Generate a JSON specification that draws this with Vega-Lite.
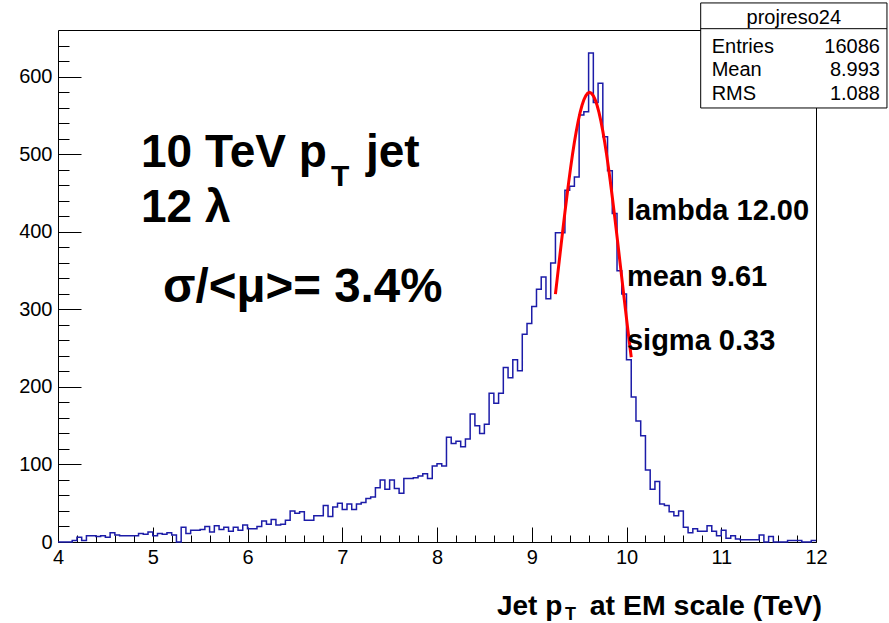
{
  "$schema": "https://vega.github.io/schema/vega-lite/v6.json",
  "width": 758,
  "height": 512,
  "autosize": {"type": "none"},
  "padding": {"left": 58, "top": 30, "right": 73, "bottom": 81},
  "background": "white",
  "data": {"values": [{}]},
  "config": {
    "view": {"stroke": "black", "strokeWidth": 1},
    "axis": {"labelFont": "Liberation Sans", "labelFontSize": 20, "labelColor": "black", "tickColor": "black", "tickWidth": 1, "grid": false, "domain": false, "labelFlush": false}
  },
  "resolve": {"axis": {"x": "independent", "y": "independent"}},
  "layer": [
    {
      "data": {"values": [
        {"lo":4.00,"hi":4.05,"n":0},{"lo":4.05,"hi":4.10,"n":0},{"lo":4.10,"hi":4.15,"n":0},{"lo":4.15,"hi":4.20,"n":2},
        {"lo":4.20,"hi":4.25,"n":6},{"lo":4.25,"hi":4.30,"n":2},{"lo":4.30,"hi":4.35,"n":8},{"lo":4.35,"hi":4.40,"n":8},
        {"lo":4.40,"hi":4.45,"n":7},{"lo":4.45,"hi":4.50,"n":8},{"lo":4.50,"hi":4.55,"n":6},{"lo":4.55,"hi":4.60,"n":12},
        {"lo":4.60,"hi":4.65,"n":9},{"lo":4.65,"hi":4.70,"n":8},{"lo":4.70,"hi":4.75,"n":8},{"lo":4.75,"hi":4.80,"n":8},
        {"lo":4.80,"hi":4.85,"n":8},{"lo":4.85,"hi":4.90,"n":11},{"lo":4.90,"hi":4.95,"n":10},{"lo":4.95,"hi":5.00,"n":13},
        {"lo":5.00,"hi":5.05,"n":8},{"lo":5.05,"hi":5.10,"n":11},{"lo":5.10,"hi":5.15,"n":10},{"lo":5.15,"hi":5.20,"n":12},
        {"lo":5.20,"hi":5.25,"n":9},{"lo":5.25,"hi":5.30,"n":0},{"lo":5.30,"hi":5.35,"n":19},{"lo":5.35,"hi":5.40,"n":11},
        {"lo":5.40,"hi":5.45,"n":15},{"lo":5.45,"hi":5.50,"n":15},{"lo":5.50,"hi":5.55,"n":16},{"lo":5.55,"hi":5.60,"n":20},
        {"lo":5.60,"hi":5.65,"n":13},{"lo":5.65,"hi":5.70,"n":21},{"lo":5.70,"hi":5.75,"n":16},{"lo":5.75,"hi":5.80,"n":19},
        {"lo":5.80,"hi":5.85,"n":14},{"lo":5.85,"hi":5.90,"n":19},{"lo":5.90,"hi":5.95,"n":15},{"lo":5.95,"hi":6.00,"n":22},
        {"lo":6.00,"hi":6.05,"n":17},{"lo":6.05,"hi":6.10,"n":17},{"lo":6.10,"hi":6.15,"n":20},{"lo":6.15,"hi":6.20,"n":27},
        {"lo":6.20,"hi":6.25,"n":23},{"lo":6.25,"hi":6.30,"n":29},{"lo":6.30,"hi":6.35,"n":22},{"lo":6.35,"hi":6.40,"n":23},
        {"lo":6.40,"hi":6.45,"n":28},{"lo":6.45,"hi":6.50,"n":40},{"lo":6.50,"hi":6.55,"n":37},{"lo":6.55,"hi":6.60,"n":39},
        {"lo":6.60,"hi":6.65,"n":28},{"lo":6.65,"hi":6.70,"n":28},{"lo":6.70,"hi":6.75,"n":34},{"lo":6.75,"hi":6.80,"n":34},
        {"lo":6.80,"hi":6.85,"n":47},{"lo":6.85,"hi":6.90,"n":33},{"lo":6.90,"hi":6.95,"n":45},{"lo":6.95,"hi":7.00,"n":50},
        {"lo":7.00,"hi":7.05,"n":42},{"lo":7.05,"hi":7.10,"n":49},{"lo":7.10,"hi":7.15,"n":42},{"lo":7.15,"hi":7.20,"n":49},
        {"lo":7.20,"hi":7.25,"n":51},{"lo":7.25,"hi":7.30,"n":56},{"lo":7.30,"hi":7.35,"n":58},{"lo":7.35,"hi":7.40,"n":70},
        {"lo":7.40,"hi":7.45,"n":80},{"lo":7.45,"hi":7.50,"n":68},{"lo":7.50,"hi":7.55,"n":80},{"lo":7.55,"hi":7.60,"n":69},
        {"lo":7.60,"hi":7.65,"n":63},{"lo":7.65,"hi":7.70,"n":82},{"lo":7.70,"hi":7.75,"n":82},{"lo":7.75,"hi":7.80,"n":83},
        {"lo":7.80,"hi":7.85,"n":85},{"lo":7.85,"hi":7.90,"n":88},{"lo":7.90,"hi":7.95,"n":82},{"lo":7.95,"hi":8.00,"n":98},
        {"lo":8.00,"hi":8.05,"n":101},{"lo":8.05,"hi":8.10,"n":98},{"lo":8.10,"hi":8.15,"n":135},{"lo":8.15,"hi":8.20,"n":127},
        {"lo":8.20,"hi":8.25,"n":130},{"lo":8.25,"hi":8.30,"n":123},{"lo":8.30,"hi":8.35,"n":133},{"lo":8.35,"hi":8.40,"n":165},
        {"lo":8.40,"hi":8.45,"n":150},{"lo":8.45,"hi":8.50,"n":140},{"lo":8.50,"hi":8.55,"n":152},{"lo":8.55,"hi":8.60,"n":192},
        {"lo":8.60,"hi":8.65,"n":179},{"lo":8.65,"hi":8.70,"n":192},{"lo":8.70,"hi":8.75,"n":225},{"lo":8.75,"hi":8.80,"n":212},
        {"lo":8.80,"hi":8.85,"n":235},{"lo":8.85,"hi":8.90,"n":221},{"lo":8.90,"hi":8.95,"n":268},{"lo":8.95,"hi":9.00,"n":282},
        {"lo":9.00,"hi":9.05,"n":304},{"lo":9.05,"hi":9.10,"n":326},{"lo":9.10,"hi":9.15,"n":342},{"lo":9.15,"hi":9.20,"n":314},
        {"lo":9.20,"hi":9.25,"n":360},{"lo":9.25,"hi":9.30,"n":399},{"lo":9.30,"hi":9.35,"n":399},{"lo":9.35,"hi":9.40,"n":454},
        {"lo":9.40,"hi":9.45,"n":459},{"lo":9.45,"hi":9.50,"n":471},{"lo":9.50,"hi":9.55,"n":551},{"lo":9.55,"hi":9.60,"n":555},
        {"lo":9.60,"hi":9.65,"n":631},{"lo":9.65,"hi":9.70,"n":567},{"lo":9.70,"hi":9.75,"n":592},{"lo":9.75,"hi":9.80,"n":523},
        {"lo":9.80,"hi":9.85,"n":479},{"lo":9.85,"hi":9.90,"n":424},{"lo":9.90,"hi":9.95,"n":350},{"lo":9.95,"hi":10.00,"n":320},
        {"lo":10.00,"hi":10.05,"n":235},{"lo":10.05,"hi":10.10,"n":187},{"lo":10.10,"hi":10.15,"n":156},{"lo":10.15,"hi":10.20,"n":137},
        {"lo":10.20,"hi":10.25,"n":93},{"lo":10.25,"hi":10.30,"n":68},{"lo":10.30,"hi":10.35,"n":78},{"lo":10.35,"hi":10.40,"n":49},
        {"lo":10.40,"hi":10.45,"n":47},{"lo":10.45,"hi":10.50,"n":39},{"lo":10.50,"hi":10.55,"n":34},{"lo":10.55,"hi":10.60,"n":40},
        {"lo":10.60,"hi":10.65,"n":19},{"lo":10.65,"hi":10.70,"n":12},{"lo":10.70,"hi":10.75,"n":17},{"lo":10.75,"hi":10.80,"n":14},
        {"lo":10.80,"hi":10.85,"n":14},{"lo":10.85,"hi":10.90,"n":21},{"lo":10.90,"hi":10.95,"n":14},{"lo":10.95,"hi":11.00,"n":8},
        {"lo":11.00,"hi":11.05,"n":15},{"lo":11.05,"hi":11.10,"n":5},{"lo":11.10,"hi":11.15,"n":8},{"lo":11.15,"hi":11.20,"n":4},
        {"lo":11.20,"hi":11.25,"n":3},{"lo":11.25,"hi":11.30,"n":3},{"lo":11.30,"hi":11.35,"n":3},{"lo":11.35,"hi":11.40,"n":3},
        {"lo":11.40,"hi":11.45,"n":9},{"lo":11.45,"hi":11.50,"n":0},{"lo":11.50,"hi":11.55,"n":7},{"lo":11.55,"hi":11.60,"n":0},
        {"lo":11.60,"hi":11.65,"n":0},{"lo":11.65,"hi":11.70,"n":0},{"lo":11.70,"hi":11.75,"n":2},{"lo":11.75,"hi":11.80,"n":2},
        {"lo":11.80,"hi":11.85,"n":2},{"lo":11.85,"hi":11.90,"n":0},{"lo":11.90,"hi":11.95,"n":0},{"lo":11.95,"hi":12.00,"n":2}
      ]},
      "transform": [{"fold": ["lo", "hi"], "as": ["edge", "xe"]}],
      "mark": {"type": "line", "color": "#1c1ca8", "strokeWidth": 1.5, "interpolate": "linear"},
      "encoding": {
        "x": {"field": "xe", "type": "quantitative", "scale": {"domain": [4, 12], "nice": false, "zero": false},
              "axis": {"orient": "bottom", "values": [4,5,6,7,8,9,10,11,12], "tickSize": -15, "labelPadding": 20, "title": null}},
        "y": {"field": "n", "type": "quantitative", "scale": {"domain": [0, 660.6], "nice": false},
              "axis": {"orient": "left", "values": [0,100,200,300,400,500,600], "tickSize": -23, "labelPadding": 29, "title": null}},
        "order": {"value": null}
      }
    },
    {
      "data": {"values": [
        {"x":9.25,"y":319.9},{"x":9.27,"y":341.2},{"x":9.29,"y":362.4},{"x":9.31,"y":383.7},{"x":9.33,"y":404.7},
        {"x":9.35,"y":425.3},{"x":9.37,"y":445.2},{"x":9.39,"y":464.4},{"x":9.41,"y":482.7},{"x":9.43,"y":499.9},
        {"x":9.45,"y":515.7},{"x":9.47,"y":530.1},{"x":9.49,"y":542.9},{"x":9.51,"y":554.0},{"x":9.53,"y":563.2},
        {"x":9.55,"y":570.5},{"x":9.57,"y":575.7},{"x":9.59,"y":578.9},{"x":9.61,"y":580.0},{"x":9.63,"y":578.9},
        {"x":9.65,"y":575.7},{"x":9.67,"y":570.5},{"x":9.69,"y":563.2},{"x":9.71,"y":554.0},{"x":9.73,"y":542.9},
        {"x":9.75,"y":530.1},{"x":9.77,"y":515.7},{"x":9.79,"y":499.9},{"x":9.81,"y":482.7},{"x":9.83,"y":464.4},
        {"x":9.85,"y":445.2},{"x":9.87,"y":425.3},{"x":9.89,"y":404.7},{"x":9.91,"y":383.7},{"x":9.93,"y":362.4},
        {"x":9.95,"y":341.2},{"x":9.97,"y":319.9},{"x":9.99,"y":298.9},{"x":10.01,"y":278.2},{"x":10.03,"y":258.0},
        {"x":10.05,"y":238.4}
      ]},
      "mark": {"type": "line", "color": "#ff0000", "strokeWidth": 3},
      "encoding": {
        "x": {"field": "x", "type": "quantitative",
              "axis": {"orient": "bottom", "values": [4.2,4.4,4.6,4.8,5.2,5.4,5.6,5.8,6.2,6.4,6.6,6.8,7.2,7.4,7.6,7.8,8.2,8.4,8.6,8.8,9.2,9.4,9.6,9.8,10.2,10.4,10.6,10.8,11.2,11.4,11.6,11.8], "tickSize": -7, "labels": false, "title": null}},
        "y": {"field": "y", "type": "quantitative",
              "axis": {"orient": "left", "values": [20,40,60,80,120,140,160,180,220,240,260,280,320,340,360,380,420,440,460,480,520,540,560,580,620,640], "tickSize": -11, "labels": false, "title": null}}
      }
    },
    {
      "mark": {"type": "text", "align": "left", "baseline": "alphabetic", "font": "Liberation Sans", "fontWeight": "bold", "fontSize": 46, "text": "10 TeV p"},
      "encoding": {"x": {"datum": 4.876, "type": "quantitative", "axis": null}, "y": {"datum": 483.9, "type": "quantitative", "axis": null}}
    },
    {
      "mark": {"type": "text", "align": "left", "baseline": "alphabetic", "font": "Liberation Sans", "fontWeight": "bold", "fontSize": 30, "text": "T"},
      "encoding": {"x": {"datum": 6.881, "type": "quantitative", "axis": null}, "y": {"datum": 459.4, "type": "quantitative", "axis": null}}
    },
    {
      "mark": {"type": "text", "align": "left", "baseline": "alphabetic", "font": "Liberation Sans", "fontWeight": "bold", "fontSize": 46, "text": "jet"},
      "encoding": {"x": {"datum": 7.25, "type": "quantitative", "axis": null}, "y": {"datum": 483.9, "type": "quantitative", "axis": null}}
    },
    {
      "mark": {"type": "text", "align": "left", "baseline": "alphabetic", "font": "Liberation Sans", "fontWeight": "bold", "fontSize": 46, "text": "12 λ"},
      "encoding": {"x": {"datum": 4.876, "type": "quantitative", "axis": null}, "y": {"datum": 412.9, "type": "quantitative", "axis": null}}
    },
    {
      "mark": {"type": "text", "align": "left", "baseline": "alphabetic", "font": "Liberation Sans", "fontWeight": "bold", "fontSize": 47.5, "text": "σ/<μ>= 3.4%"},
      "encoding": {"x": {"datum": 5.108, "type": "quantitative", "axis": null}, "y": {"datum": 309.7, "type": "quantitative", "axis": null}}
    },
    {
      "mark": {"type": "text", "align": "left", "baseline": "alphabetic", "font": "Liberation Sans", "fontWeight": "bold", "fontSize": 29, "text": "lambda 12.00"},
      "encoding": {"x": {"datum": 10.005, "type": "quantitative", "axis": null}, "y": {"datum": 415.5, "type": "quantitative", "axis": null}}
    },
    {
      "mark": {"type": "text", "align": "left", "baseline": "alphabetic", "font": "Liberation Sans", "fontWeight": "bold", "fontSize": 29, "text": "mean 9.61"},
      "encoding": {"x": {"datum": 10.005, "type": "quantitative", "axis": null}, "y": {"datum": 330.3, "type": "quantitative", "axis": null}}
    },
    {
      "mark": {"type": "text", "align": "left", "baseline": "alphabetic", "font": "Liberation Sans", "fontWeight": "bold", "fontSize": 29, "text": "sigma 0.33"},
      "encoding": {"x": {"datum": 10.005, "type": "quantitative", "axis": null}, "y": {"datum": 247.7, "type": "quantitative", "axis": null}}
    },
    {
      "mark": {"type": "text", "align": "left", "baseline": "alphabetic", "font": "Liberation Sans", "fontWeight": "bold", "fontSize": 28, "text": "Jet p"},
      "encoding": {"x": {"datum": 8.633, "type": "quantitative", "axis": null}, "y": {"datum": -94.2, "type": "quantitative", "axis": null}}
    },
    {
      "mark": {"type": "text", "align": "left", "baseline": "alphabetic", "font": "Liberation Sans", "fontWeight": "bold", "fontSize": 18, "text": "T"},
      "encoding": {"x": {"datum": 9.35, "type": "quantitative", "axis": null}, "y": {"datum": -100.6, "type": "quantitative", "axis": null}}
    },
    {
      "mark": {"type": "text", "align": "right", "baseline": "alphabetic", "font": "Liberation Sans", "fontWeight": "bold", "fontSize": 28.5, "text": "at EM scale (TeV)"},
      "encoding": {"x": {"datum": 12.063, "type": "quantitative", "axis": null}, "y": {"datum": -94.2, "type": "quantitative", "axis": null}}
    },
    {
      "mark": {"type": "rect", "fill": "white", "stroke": "black", "strokeWidth": 1},
      "encoding": {"x": {"datum": 10.783, "type": "quantitative", "axis": null}, "x2": {"datum": 12.749}, "y": {"datum": 560.0, "type": "quantitative", "axis": null}, "y2": {"datum": 695.5}}
    },
    {
      "mark": {"type": "rule", "color": "black", "strokeWidth": 1},
      "encoding": {"x": {"datum": 10.783, "type": "quantitative", "axis": null}, "x2": {"datum": 12.749}, "y": {"datum": 662.3, "type": "quantitative", "axis": null}}
    },
    {
      "mark": {"type": "text", "align": "center", "baseline": "alphabetic", "font": "Liberation Sans", "fontSize": 20, "text": "projreso24"},
      "encoding": {"x": {"datum": 11.766, "type": "quantitative", "axis": null}, "y": {"datum": 668.4, "type": "quantitative", "axis": null}}
    },
    {
      "mark": {"type": "text", "align": "left", "baseline": "alphabetic", "font": "Liberation Sans", "fontSize": 20, "text": "Entries"},
      "encoding": {"x": {"datum": 10.899, "type": "quantitative", "axis": null}, "y": {"datum": 630.6, "type": "quantitative", "axis": null}}
    },
    {
      "mark": {"type": "text", "align": "right", "baseline": "alphabetic", "font": "Liberation Sans", "fontSize": 20, "text": "16086"},
      "encoding": {"x": {"datum": 12.675, "type": "quantitative", "axis": null}, "y": {"datum": 630.6, "type": "quantitative", "axis": null}}
    },
    {
      "mark": {"type": "text", "align": "left", "baseline": "alphabetic", "font": "Liberation Sans", "fontSize": 20, "text": "Mean"},
      "encoding": {"x": {"datum": 10.899, "type": "quantitative", "axis": null}, "y": {"datum": 601.3, "type": "quantitative", "axis": null}}
    },
    {
      "mark": {"type": "text", "align": "right", "baseline": "alphabetic", "font": "Liberation Sans", "fontSize": 20, "text": "8.993"},
      "encoding": {"x": {"datum": 12.675, "type": "quantitative", "axis": null}, "y": {"datum": 601.3, "type": "quantitative", "axis": null}}
    },
    {
      "mark": {"type": "text", "align": "left", "baseline": "alphabetic", "font": "Liberation Sans", "fontSize": 20, "text": "RMS"},
      "encoding": {"x": {"datum": 10.899, "type": "quantitative", "axis": null}, "y": {"datum": 570.3, "type": "quantitative", "axis": null}}
    },
    {
      "mark": {"type": "text", "align": "right", "baseline": "alphabetic", "font": "Liberation Sans", "fontSize": 20, "text": "1.088"},
      "encoding": {"x": {"datum": 12.675, "type": "quantitative", "axis": null}, "y": {"datum": 570.3, "type": "quantitative", "axis": null}}
    }
  ]
}
